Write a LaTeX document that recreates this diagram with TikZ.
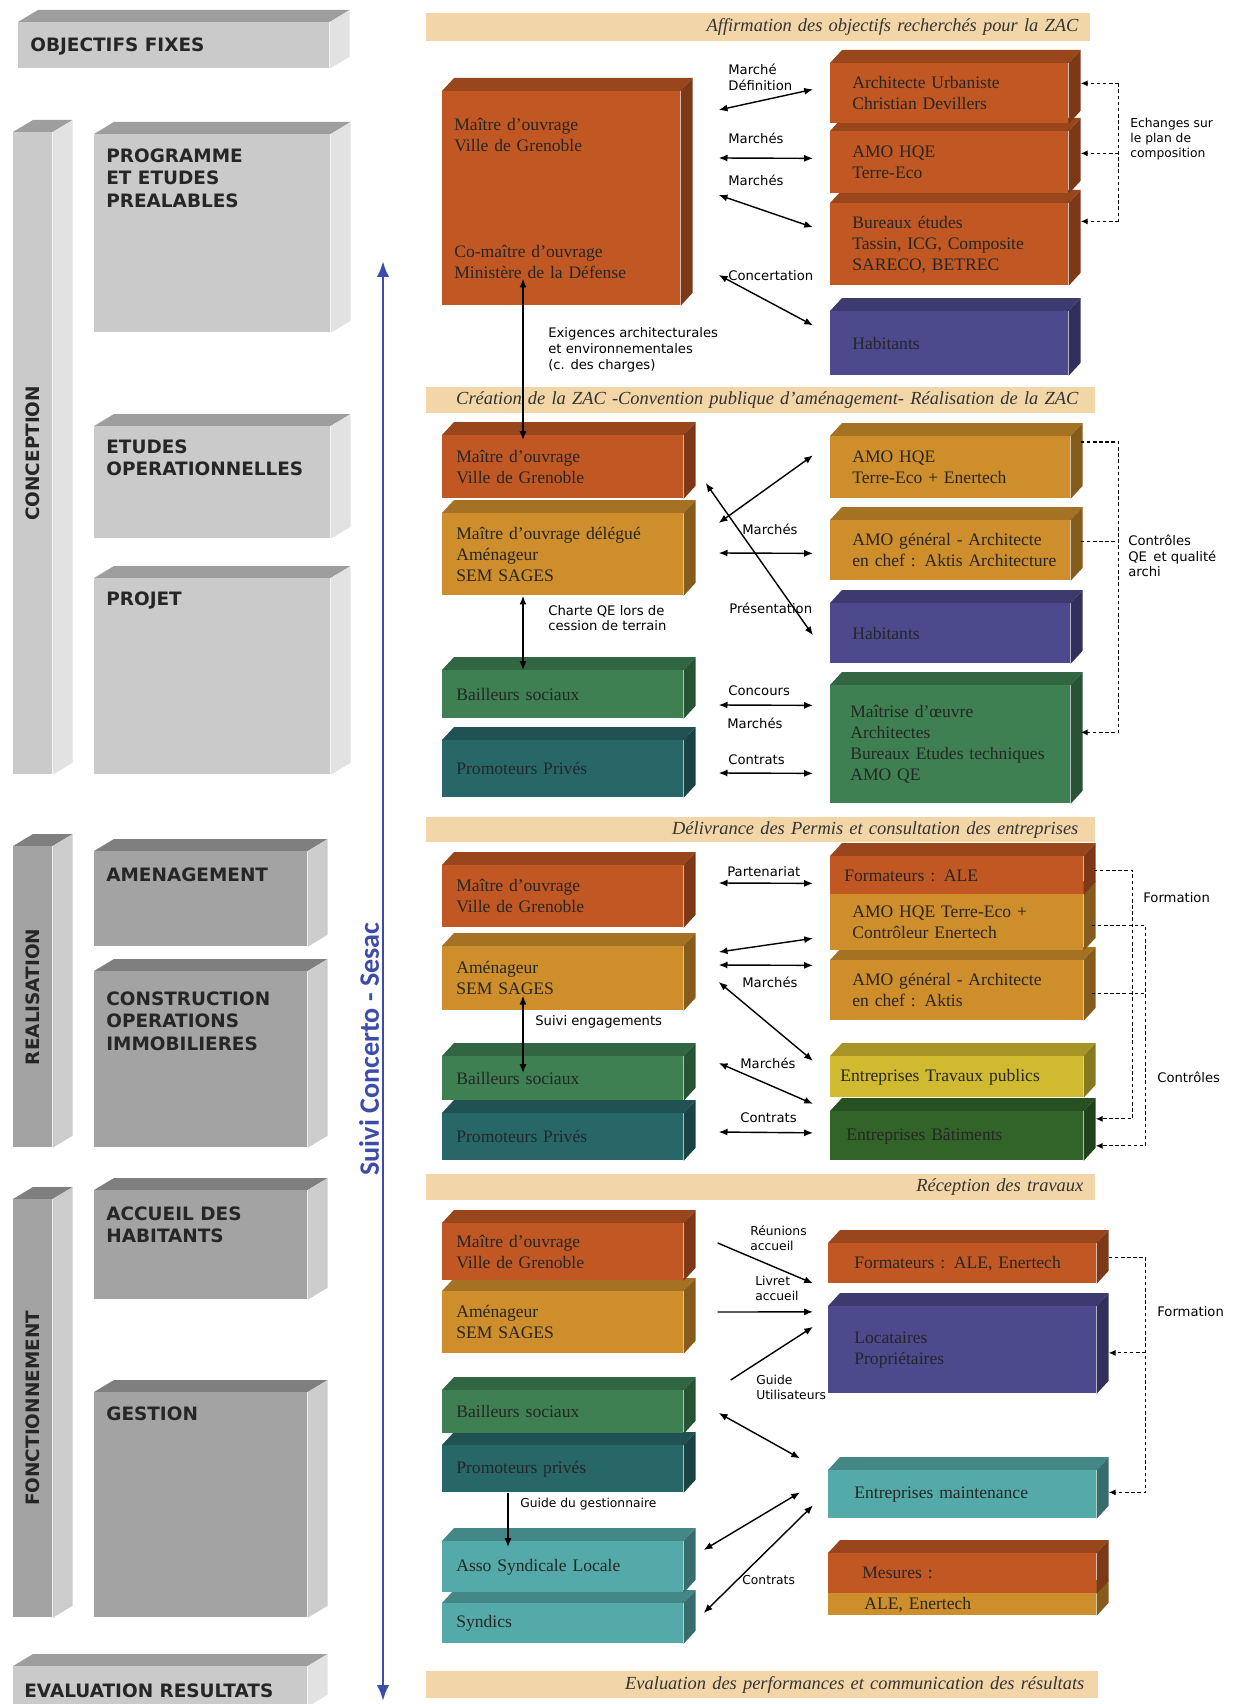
\documentclass[tikz,border=0pt]{standalone}
\usepackage{fontspec}
\setmainfont{Liberation Serif}
\newfontfamily\labelfont{DejaVu Sans}
\newfontfamily\suivifont{Carlito}
\usetikzlibrary{positioning,arrows.meta,calc,backgrounds}

\definecolor{rouille}{RGB}{193,88,36}
\definecolor{ocre}{RGB}{206,142,44}
\definecolor{indigo}{RGB}{76,73,140}
\definecolor{vert}{RGB}{62,128,82}
\definecolor{canard}{RGB}{40,103,104}
\definecolor{turquoise}{RGB}{84,170,168}
\definecolor{jaune}{RGB}{208,186,48}
\definecolor{vertfonce}{RGB}{50,100,42}
\definecolor{beige}{RGB}{243,214,168}
\definecolor{gris}{RGB}{202,202,202}
\definecolor{grisf}{RGB}{163,163,163}
\definecolor{bleu}{RGB}{60,76,168}

\tikzset{
  taille/.style 2 args={minimum width=#1*0.2mm, minimum height=#2*0.2mm},
  sz/.style n args={3}{taille={#1}{#2},
    /utils/exec={\pgfmathsetlengthmacro\largeur{(#1-2*#3)*0.2mm}},
    text width=\largeur},
  bloc/.style={fill=#1, anchor=north west, inner sep=0pt, align=left,
    font=\fontsize{10}{12}\selectfont, text=black!85},
  plaque/.style={fill=#1, anchor=north west, inner sep=0pt},
  bandeau/.style={fill=beige, anchor=north west, inner sep=0pt, align=right,
    font=\fontsize{10.5}{12}\selectfont\itshape, text=black!80},
  phase/.style={font=\labelfont\bfseries\fontsize{10.5}{13}\selectfont,
    inner sep=0pt, align=left, text=black!85},
  lbl/.style={font=\labelfont\fontsize{7.5}{9}\selectfont, inner sep=0pt,
    align=left, anchor=west},
  petit/.style={font=\labelfont\fontsize{7}{8.5}\selectfont},
  fleche/.style={-{Latex[length=5pt,width=4pt]}, line width=0.8pt},
  dfleche/.style={{Latex[length=5pt,width=4pt]}-{Latex[length=5pt,width=4pt]}, line width=0.8pt},
  pointille/.style={-{Latex[length=4pt,width=3.5pt]}, line width=0.7pt, dash pattern=on 2pt off 1.5pt},
  suivi/.style={{Latex[length=9pt,width=7pt]}-{Latex[length=9pt,width=7pt]}, line width=1.6pt, draw=bleu}
}

\begin{document}
\begin{tikzpicture}[x=0.2mm, y=-0.2mm]
\useasboundingbox (0,0) rectangle (1238,1704);

%% ===========================================================================
%% Colonne des phases
%% ===========================================================================
\node[plaque=gris,  taille={311}{46}]  (objfix)  at (18,22)   {};
\node[plaque=gris,  taille={39}{642}]  (concep)  at (13,132)  {};
\node[plaque=gris,  taille={236}{198}] (progr)   at (94,134)  {};
\node[plaque=gris,  taille={236}{112}] (etop)    at (94,426)  {};
\node[plaque=gris,  taille={236}{196}] (projet)  at (94,578)  {};
\node[plaque=grisf, taille={39}{301}]  (realis)  at (13,846)  {};
\node[plaque=grisf, taille={213}{95}]  (amenag)  at (94,851)  {};
\node[plaque=grisf, taille={213}{176}] (constr)  at (94,971)  {};
\node[plaque=grisf, taille={39}{418}]  (fonct)   at (13,1199) {};
\node[plaque=grisf, taille={213}{109}] (accueil) at (94,1190) {};
\node[plaque=grisf, taille={213}{225}] (gestion) at (94,1392) {};
\node[plaque=gris,  taille={294}{40}]  (evalres) at (13,1666) {};

% intitules
\node[phase, anchor=west]       (objtxt)   at ($(objfix.west)+(12,1)$)        {OBJECTIFS FIXES};
\node[phase, rotate=90]         (conctxt)  at (concep.center)                 {CONCEPTION};
\node[phase, anchor=north west] (progtxt)  at ($(progr.north west)+(12,14)$)  {PROGRAMME\\ET ETUDES\\PREALABLES};
\node[phase, anchor=north west] (etoptxt)  at ($(etop.north west)+(12,13)$)   {ETUDES\\OPERATIONNELLES};
\node[phase, anchor=north west] (projtxt)  at ($(projet.north west)+(12,13)$) {PROJET};
\node[phase, rotate=90]         (realtxt)  at (realis.center)                 {REALISATION};
\node[phase, anchor=north west] (amentxt)  at ($(amenag.north west)+(12,16)$) {AMENAGEMENT};
\node[phase, anchor=north west] (consttxt) at ($(constr.north west)+(12,20)$) {CONSTRUCTION\\OPERATIONS\\IMMOBILIERES};
\node[phase, rotate=90]         (fonctxt)  at (fonct.center)                  {FONCTIONNEMENT};
\node[phase, anchor=north west] (acctxt)   at ($(accueil.north west)+(12,16)$) {ACCUEIL DES\\HABITANTS};
\node[phase, anchor=north west] (gesttxt)  at ($(gestion.north west)+(12,14)$) {GESTION};
\node[phase, anchor=west]       (evaltxt)  at ($(evalres.west)+(11,4)$)       {EVALUATION RESULTATS};

% suivi
\coordinate (suivihaut) at (383,261);
\coordinate (suivibas)  at (383,1701);
\draw[suivi] (suivihaut) -- (suivibas);
\node[font=\suivifont\bfseries\fontsize{16}{19}\selectfont, text=bleu, rotate=90]
  (suivitxt) at (369,1049) {Suivi Concerto - Sesac};

%% ===========================================================================
%% Bandeaux
%% ===========================================================================
\node[bandeau, sz={664}{28}{12}] (ban1) at (426,13)   {Affirmation des objectifs recherchés pour la ZAC};
\node[bandeau, sz={669}{26}{17}] (ban2) at (426,387)  {Création de la ZAC -Convention publique d'aménagement- Réalisation de la ZAC};
\node[bandeau, sz={669}{25}{17}] (ban3) at (426,817)  {Délivrance des Permis et consultation des entreprises};
\node[bandeau, sz={669}{26}{12}] (ban4) at (426,1174) {Réception des travaux};
\node[bandeau, sz={672}{27}{14}] (ban5) at (426,1671) {Evaluation des performances et communication des résultats};

%% ===========================================================================
%% Affirmation des objectifs
%% ===========================================================================
\node[bloc=rouille, sz={238}{214}{12}] (mo1) at (442,91)
  {Maître d'ouvrage\\Ville de Grenoble\\[17mm]Co-maître d'ouvrage\\Ministère de la Défense};
\node[bloc=rouille, sz={238}{60}{22}] (arch1) at (830,63)  {Architecte Urbaniste\\Christian Devillers};
\node[bloc=rouille, sz={238}{62}{22}] (hqe1)  at (830,131) {AMO HQE\\Terre-Eco};
\node[bloc=rouille, sz={238}{82}{22}] (bet1)  at (830,203) {Bureaux études\\Tassin, ICG, Composite\\SARECO, BETREC};
\node[bloc=indigo,  sz={238}{64}{22}] (hab1)  at (830,311) {Habitants};

\draw[dfleche] ($(mo1.north east)+(38,19)$)  -- ($(arch1.west)+(-17,-4)$);
\draw[dfleche] ($(mo1.north east)+(38,67)$)  -- ($(hqe1.west)+(-17,-4)$);
\draw[dfleche] ($(mo1.north east)+(38,104)$) -- ($(bet1.west)+(-17,-17)$);
\draw[dfleche] ($(mo1.north east)+(38,184)$) -- ($(hab1.west)+(-17,-18)$);

\node[lbl] (lmdef)  at (728,77)  {Marché\\Définition};
\node[lbl] (lmar1a) at (728,138) {Marchés};
\node[lbl] (lmar1b) at (728,180) {Marchés};
\node[lbl] (lconc)  at (728,276) {Concertation};
\node[lbl] (lexig)  at (548,350) {Exigences architecturales\\et environnementales\\(c. des charges)};

% echanges
\draw[pointille, -] ($(arch1.east)+(50,-10)$) coordinate (c1) -- ($(bet1.east)+(50,-23)$) coordinate (c1b);
\draw[pointille] (c1) -- ($(arch1.east)+(12,-10)$);
\draw[pointille] ($(c1 |- hqe1.east)+(0,-9)$) -- ($(hqe1.east)+(12,-9)$);
\draw[pointille] (c1b) -- ($(bet1.east)+(12,-23)$);
\node[lbl, petit] (lech) at (1130,139) {Echanges sur\\le plan de\\composition};

%% ===========================================================================
%% Creation de la ZAC
%% ===========================================================================
\node[bloc=rouille, sz={241}{63}{14}] (mo2)  at (442,435) {Maître d'ouvrage\\Ville de Grenoble};
\node[bloc=ocre,    sz={241}{82}{14}] (mod2) at (442,513) {Maître d'ouvrage délégué\\Aménageur\\SEM SAGES};
\node[bloc=vert,    sz={241}{48}{14}] (bail2) at (442,670) {Bailleurs sociaux};
\node[bloc=canard,  sz={241}{57}{14}] (prom2) at (442,740) {Promoteurs Privés};

\node[bloc=ocre,   sz={240}{62}{22}]  (hqe2) at (830,436) {AMO HQE\\Terre-Eco + Enertech};
\node[bloc=ocre,   sz={240}{60}{22}]  (amo2) at (830,520) {\mbox{AMO général - Architecte}\\\mbox{en chef : Aktis Architecture}};
\node[bloc=indigo, sz={240}{60}{22}]  (hab2) at (830,603) {Habitants};
\node[bloc=vert,   sz={240}{118}{20}] (moe2) at (830,685) {Maîtrise d'œuvre\\Architectes\\Bureaux Etudes techniques\\AMO QE};

\draw[dfleche] ($(mo1.south west)+(81,-27)$) -- ($(mo2.north west)+(81,5)$);
\draw[dfleche] ($(mod2.north east)+(35,10)$) -- ($(hqe2.west)+(-17,-12)$);
\draw[dfleche] ($(mo2.north east)+(22,48)$)  -- ($(hab2.west)+(-17,2)$);
\draw[dfleche] ($(mod2.north east)+(35,40)$) -- ($(amo2.west)+(-17,3)$);
\draw[dfleche] ($(mod2.south west)+(81,0)$)  -- ($(bail2.north west)+(81,0)$);
\draw[dfleche] ($(bail2.north east)+(35,35)$) -- ($(moe2.west)+(-17,-39)$);
\draw[dfleche] ($(prom2.north east)+(35,33)$) -- ($(moe2.west)+(-17,29)$);

\node[lbl] (lmar2)     at (742,529) {Marchés};
\node[lbl] (lpres)     at (729,608) {Présentation};
\node[lbl] (lcharte)   at (548,618) {Charte QE lors de\\cession de terrain};
\node[lbl] (lconcours) at (728,691) {Concours};
\node[lbl] (lmar2b)    at (727,723) {Marchés};
\node[lbl] (lcontr2)   at (728,760) {Contrats};

% controles
\draw[pointille] ($(hqe2.north east)+(10,6)$) -- ++(38,0) coordinate (c2) |- ($(moe2.east)+(10,-12)$);
\draw[pointille, -] ($(amo2.east)+(10,-9)$) -- ++(38,0);
\node[lbl] (lctrl2) at (1128,556) {Contrôles\\QE\, et qualité\\archi};

%% ===========================================================================
%% Delivrance des permis
%% ===========================================================================
\node[bloc=rouille, sz={241}{62}{14}] (mo3)   at (442,865)  {Maître d'ouvrage\\Ville de Grenoble};
\node[bloc=ocre,    sz={241}{64}{14}] (amen3) at (442,946)  {Aménageur\\SEM SAGES};
\node[bloc=vert,    sz={241}{44}{14}] (bail3) at (442,1056) {Bailleurs sociaux};
\node[bloc=canard,  sz={241}{47}{14}] (prom3) at (442,1113) {Promoteurs Privés};

\node[bloc=rouille,   sz={253}{38}{14}] (form3) at (830,856)  {Formateurs : ALE};
\node[bloc=ocre,      sz={253}{56}{22}] (hqe3)  at (830,894)  {AMO HQE Terre-Eco +\\Contrôleur Enertech};
\node[bloc=ocre,      sz={253}{60}{22}] (amo3)  at (830,960)  {AMO général - Architecte\\en chef : Aktis};
\node[bloc=jaune,     sz={253}{41}{10}] (etp3)  at (830,1056) {Entreprises Travaux publics};
\node[bloc=vertfonce, sz={253}{49}{16}] (ebat3) at (830,1111) {Entreprises Bâtiments};

\draw[dfleche] ($(mo3.north east)+(35,18)$)   -- ($(form3.west)+(-17,8)$);
\draw[dfleche] ($(amen3.north east)+(35,6)$)  -- ($(hqe3.west)+(-17,16)$);
\draw[dfleche] ($(amen3.north east)+(35,19)$) -- ($(amo3.west)+(-17,-25)$);
\draw[dfleche] ($(amen3.north east)+(35,36)$) -- ($(etp3.west)+(-17,-16)$);
\draw[dfleche] ($(bail3.north east)+(35,7)$)  -- ($(ebat3.west)+(-17,-32)$);
\draw[dfleche] ($(prom3.north east)+(35,19)$) -- ($(ebat3.west)+(-17,-3)$);
\draw[dfleche] ($(amen3.south west)+(81,-15)$) -- ($(bail3.north west)+(81,17)$);

\node[lbl] (lpart)   at (727,872)  {Partenariat};
\node[lbl] (lmar3a)  at (742,982)  {Marchés};
\node[lbl] (lsuivi)  at (535,1022) {Suivi engagements};
\node[lbl] (lmar3b)  at (740,1063) {Marchés};
\node[lbl] (lcontr3) at (740,1118) {Contrats};

% formation et controles
\draw[pointille] ($(form3.east)+(10,-5)$) -- ++(39,0) coordinate (f3) |- ($(ebat3.east)+(12,-17)$);
\draw[pointille] ($(hqe3.east)+(8,3)$) -- ++(54,0) coordinate (k3) |- ($(ebat3.east)+(12,10)$);
\draw[pointille, -] ($(amo3.east)+(8,3)$) -- ++(54,0);
\node[lbl] (lform3) at (1143,898)  {Formation};
\node[lbl] (lctrl3) at (1157,1077) {Contrôles};

%% ===========================================================================
%% Reception des travaux
%% ===========================================================================
\node[bloc=rouille,   sz={241}{57}{14}] (mo4)   at (442,1223) {Maître d'ouvrage\\Ville de Grenoble};
\node[bloc=ocre,      sz={241}{62}{14}] (amen4) at (442,1291) {Aménageur\\SEM SAGES};
\node[bloc=vert,      sz={241}{43}{14}] (bail4) at (442,1390) {Bailleurs sociaux};
\node[bloc=canard,    sz={241}{47}{14}] (prom4) at (442,1445) {Promoteurs privés};
\node[bloc=turquoise, sz={241}{51}{14}] (asso4) at (442,1541) {Asso Syndicale Locale};
\node[bloc=turquoise, sz={241}{40}{14}] (synd4) at (442,1603) {Syndics};

\node[bloc=rouille,   sz={268}{40}{26}] (form4)  at (828,1243) {Formateurs : ALE, Enertech};
\node[bloc=indigo,    sz={268}{87}{26}] (loc4)   at (828,1306) {Locataires\\Propriétaires\\[3mm]};
\node[bloc=turquoise, sz={268}{48}{26}] (maint4) at (828,1470) {Entreprises maintenance};
\node[bloc=rouille,   sz={268}{40}{34}] (mes4a)  at (828,1553) {Mesures :};
\node[bloc=ocre,      sz={268}{22}{36}] (mes4b)  at (828,1593) {ALE, Enertech};

\draw[fleche]  ($(mo4.north east)+(34,20)$)   -- ($(form4.west)+(-15,20)$);
\draw[fleche]  ($(amen4.north east)+(34,21)$) -- ($(loc4.west)+(-15,-38)$);
\draw[fleche]  ($(bail4.north east)+(47,-10)$) -- ($(loc4.west)+(-15,-23)$);
\draw[dfleche] ($(bail4.north east)+(35,23)$) -- ($(maint4.west)+(-28,-36)$);
\draw[dfleche] ($(asso4.north east)+(20,9)$)  -- ($(maint4.west)+(-28,-2)$);
\draw[dfleche] ($(synd4.north east)+(20,10)$) -- ($(maint4.west)+(-15,11)$);
\draw[fleche]  ($(prom4.south west)+(66,0)$)  -- ($(asso4.north west)+(66,6)$);

\node[lbl, petit] (lreun)   at (750,1238) {Réunions\\accueil};
\node[lbl, petit] (llivret) at (755,1288) {Livret\\accueil};
\node[lbl, petit] (lguide)  at (756,1387) {Guide\\Utilisateurs};
\node[lbl, petit] (lgest)   at (520,1504) {Guide du gestionnaire};
\node[lbl, petit] (lcontr4) at (742,1580) {Contrats};

% formation
\draw[pointille] ($(form4.east)+(12,-6)$) -- ++(37,0) coordinate (f4) |- ($(maint4.east)+(12,-2)$);
\draw[pointille] ($(f4 |- loc4.east)+(0,3)$) -- ($(loc4.east)+(12,3)$);
\node[lbl] (lform4) at (1157,1312) {Formation};

%% ===========================================================================
%% Faces du relief (fond)
%% ===========================================================================
\begin{scope}[on background layer]
  \fill[white] (0,0) rectangle (1238,1704);
  \foreach \nom/\coul in {evalres/gris, gestion/grisf, accueil/grisf, fonct/grisf,
      constr/grisf, amenag/grisf, realis/grisf, projet/gris, etop/gris, progr/gris,
      concep/gris, objfix/gris}{
    \fill[fill=\coul!78!black] (\nom.north west) -- ++(20,-12) -- ($(\nom.north east)+(20,-12)$) -- (\nom.north east) -- cycle;
    \fill[fill=\coul!55!white] (\nom.north east) -- ++(20,-12) -- ($(\nom.south east)+(20,-12)$) -- (\nom.south east) -- cycle;
  }
  \foreach \nom/\coul in {mes4b/ocre, mes4a/rouille, maint4/turquoise, loc4/indigo, form4/rouille,
      synd4/turquoise, asso4/turquoise, prom4/canard, bail4/vert, amen4/ocre, mo4/rouille,
      ebat3/vertfonce, etp3/jaune, amo3/ocre, hqe3/ocre, form3/rouille,
      prom3/canard, bail3/vert, amen3/ocre, mo3/rouille,
      moe2/vert, hab2/indigo, amo2/ocre, hqe2/ocre, prom2/canard, bail2/vert, mod2/ocre, mo2/rouille,
      hab1/indigo, bet1/rouille, hqe1/rouille, arch1/rouille, mo1/rouille}{
    \fill[fill=\coul!80!black] (\nom.north west) -- ++(12,-13) -- ($(\nom.north east)+(12,-13)$) -- (\nom.north east) -- cycle;
    \fill[fill=\coul!65!black] (\nom.north east) -- ++(12,-13) -- ($(\nom.south east)+(12,-13)$) -- (\nom.south east) -- cycle;
  }
\end{scope}

\end{tikzpicture}
\end{document}
